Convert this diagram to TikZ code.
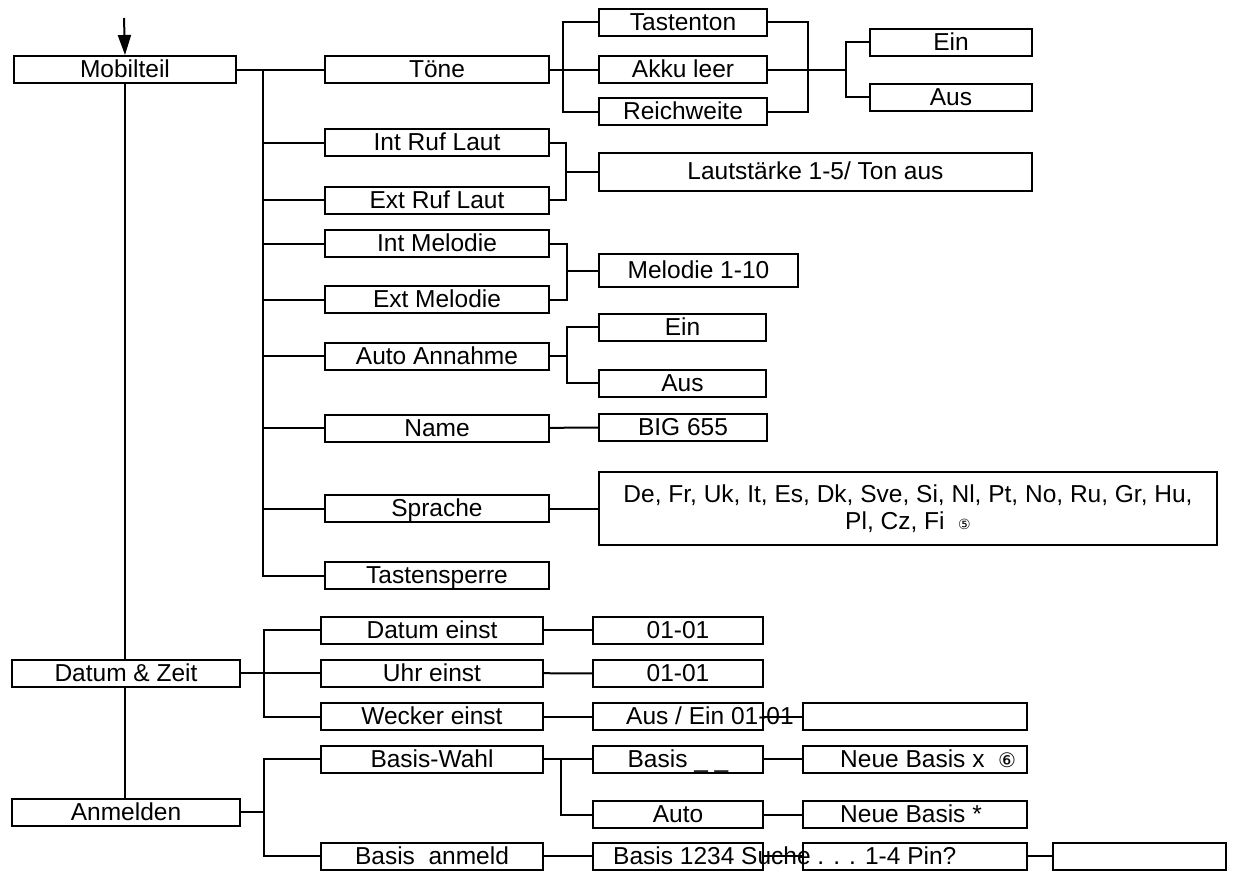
\documentclass[tikz,border=0pt]{standalone}
\usepackage{fontspec}
\setmainfont{Liberation Sans}
\newfontfamily\circfont{DejaVu Sans}
\usetikzlibrary{arrows.meta, positioning, calc}

\begin{document}
\begin{tikzpicture}[
        x=1pt, y=-1pt,
        box/.style={draw, line width=2pt, anchor=west, minimum height=27pt, inner sep=0pt,
            text height=17.5pt, text depth=1pt, font=\fontsize{24.5}{28}\selectfont},
        txt/.style={anchor=west, inner sep=0pt, text height=17.5pt, text depth=1pt, font=\fontsize{24.5}{28}\selectfont},
        link/.style={line width=2pt},
        arr/.style={-{Triangle[length=20pt, width=13pt]}, line width=2pt}
    ]
        \useasboundingbox (0,0) rectangle (1235,879);

        % top level
        \node[box, minimum width=222pt] (mob) at (13,69.5) {Mobilteil};
        \node[box, minimum width=228pt] (dz) at (11,673) {Datum \& Zeit};
        \node[box, minimum width=228pt] (anm) at (11,812) {Anmelden};
        \coordinate (start) at (124,18);

        % Mobilteil
        \node[box, minimum width=224pt] (toene) at (324,69.5) {Töne};
        \node[box, minimum width=224pt] (intruf) at (324,142.5) {Int Ruf Laut};
        \node[box, minimum width=224pt] (extruf) at (324,200) {Ext Ruf Laut};
        \node[box, minimum width=224pt] (intmel) at (324,243.5) {Int Melodie};
        \node[box, minimum width=224pt] (extmel) at (324,299.5) {Ext Melodie};
        \node[box, minimum width=224pt] (autoan) at (324,356) {Auto Annahme};
        \node[box, minimum width=224pt] (name) at (324,428) {Name};
        \node[box, minimum width=224pt] (sprache) at (324,508.5) {Sprache};
        \node[box, minimum width=224pt] (tsperre) at (324,575.5) {Tastensperre};

        \node[box, minimum width=168pt] (taste) at (598,22) {Tastenton};
        \node[box, minimum width=168pt] (akku) at (598,69.5) {Akku leer};
        \node[box, minimum width=168pt] (reich) at (598,111.5) {Reichweite};
        \node[box, minimum width=162pt] (einA) at (869,42) {Ein};
        \node[box, minimum width=162pt] (ausA) at (869,97) {Aus};

        \node[box, minimum width=433pt, minimum height=38pt] (laut) at (598,171.5) {Lautstärke 1-5/ Ton aus};
        \node[box, minimum width=199pt, minimum height=33pt] (mel) at (598,270.5) {Melodie 1-10};
        \node[box, minimum width=167pt] (einB) at (598,327) {Ein};
        \node[box, minimum width=167pt] (ausB) at (598,383) {Aus};
        \node[box, minimum width=168pt] (big) at (598,427.5) {BIG 655};
        \node[box, minimum width=618pt, minimum height=73pt, align=center, text height=, text depth=,
            font=\fontsize{24.5}{27}\selectfont] (langs) at (598,508.5)
            {De, Fr, Uk, It, Es, Dk, Sve, Si, Nl, Pt, No, Ru, Gr, Hu,\\Pl, Cz, Fi\ \ {\circfont\fontsize{14}{16}\selectfont ⑤}};

        % Datum & Zeit, Anmelden
        \node[box, minimum width=222pt] (datum) at (320,630) {Datum einst};
        \node[box, minimum width=222pt] (uhr) at (320,673) {Uhr einst};
        \node[box, minimum width=222pt] (wecker) at (320,716.5) {Wecker einst};
        \node[box, minimum width=222pt] (bwahl) at (320,759) {Basis-Wahl};
        \node[box, minimum width=222pt] (banm) at (320,856) {Basis\ \ anmeld};

        \node[box, minimum width=170pt] (dval) at (592,630) {01-01};
        \node[box, minimum width=170pt] (uval) at (592,673.5) {01-01};
        \node[box, minimum width=170pt] (ausein) at (592,716.5) {};
        \node[box, minimum width=170pt] (basis) at (592,759) {Basis \_ \_};
        \node[box, minimum width=170pt] (auto) at (592,814.5) {Auto};
        \node[box, minimum width=170pt] (bsuche) at (592,856) {};

        \node[box, minimum width=224pt] (wleer) at (802,716.5) {};
        \node[box, minimum width=224pt] (neux) at (802,759) {};
        \node[box, minimum width=224pt] (neustar) at (802,814.5) {};
        \node[box, minimum width=224pt] (pin) at (802,856) {};
        \node[box, minimum width=173pt] (last) at (1052,856) {};

        \node[txt] (auseintxt) at (626,716.5) {Aus / Ein 01-01};
        \node[txt] (neuxtxt) at (840,759) {Neue Basis x\ \ {\circfont\fontsize{20}{22}\selectfont ⑥}};
        \node[txt] (neustartxt) at (840,814.5) {Neue Basis *};
        \node[txt] (suchetxt) at (613,856) {Basis 1234 Suche . . . 1-4 Pin?};

        % trunk
        \draw[arr] (start) -- (mob.north);
        \draw[link] (mob.south) -- (mob.south |- dz.north);
        \draw[link] (mob.south |- dz.south) -- (mob.south |- anm.north);

        % Mobilteil bus
        \coordinate (mbus) at (263,69.5);
        \draw[link] (mob.east) -- (toene.west);
        \draw[link] (mbus) |- (tsperre.west);
        \foreach \n in {intruf, extruf, intmel, extmel, autoan, name, sprache}
            \draw[link] (mbus |- \n.west) -- (\n.west);

        % Töne
        \coordinate (tbus) at (563,69.5);
        \coordinate (rbus) at (808,69.5);
        \coordinate (ebus) at (846,69.5);
        \draw[link] (toene.east) -- (akku.west);
        \draw[link] (taste.west) -| (tbus) |- (reich.west);
        \draw[link] (taste.east) -| (rbus) |- (reich.east);
        \draw[link] (akku.east) -- (ebus);
        \draw[link] (einA.west) -| (ebus) |- (ausA.west);

        % Ruf, Melodie, Annahme
        \coordinate (rufbus) at (566,171.5);
        \draw[link] (intruf.east) -| (rufbus) |- (extruf.east);
        \draw[link] (rufbus) -- (laut.west);
        \coordinate (melbus) at (567,270.5);
        \draw[link] (intmel.east) -| (melbus) |- (extmel.east);
        \draw[link] (melbus) -- (mel.west);
        \coordinate (annbus) at (567,356);
        \draw[link] (autoan.east) -- (annbus);
        \draw[link] (einB.west) -| (annbus) |- (ausB.west);
        \draw[link] (name) -- (big);
        \draw[link] (sprache) -- (langs);

        % Datum & Zeit
        \coordinate (dbus) at (264,673);
        \draw[link] (dz.east) -- (uhr.west);
        \draw[link] (datum.west) -| (dbus) |- (wecker.west);
        \draw[link] (datum) -- (dval);
        \draw[link] (uhr) -- (uval);
        \draw[link] (wecker) -- (ausein);
        \draw[link] (ausein) -- (wleer);

        % Anmelden
        \coordinate (abus) at (264,812);
        \draw[link] (anm.east) -- (abus);
        \draw[link] (bwahl.west) -| (abus) |- (banm.west);
        \coordinate (bbus) at (561,759);
        \draw[link] (bwahl) -- (basis);
        \draw[link] (bbus) |- (auto.west);
        \draw[link] (basis) -- (neux);
        \draw[link] (auto) -- (neustar);
        \draw[link] (banm) -- (bsuche);
        \draw[link] (bsuche) -- (pin);
        \draw[link] (pin) -- (last);
    \end{tikzpicture}
\end{document}
